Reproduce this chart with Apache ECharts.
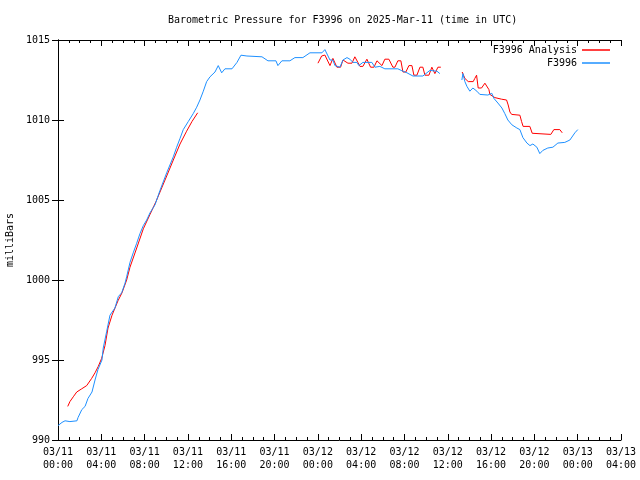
<!DOCTYPE html>
<html>
<head>
<meta charset="utf-8">
<script src="https://cdn.jsdelivr.net/npm/echarts@6/dist/echarts.min.js"></script>
<style>html,body{margin:0;padding:0;background:#fff}#c{width:640px;height:480px}</style>
</head>
<body>
<div id="c"></div>
<script>
// Hours since 03/11 00:00 UTC, pressure in millibars. null = gap in record.
var blueHours = [0,0.37,0.65,1.1,1.75,1.85,2.2,2.5,2.77,3.14,3.42,3.69,4.06,4.18,4.5,4.8,5.26,5.57,5.88,6.19,6.34,6.65,6.95,7.27,7.57,7.88,8.19,8.5,8.96,9.42,10.04,10.65,10.96,11.27,11.57,12.03,12.49,12.81,13.11,13.42,13.73,14.04,14.5,14.8,15.12,15.42,16.07,16.53,16.9,17.45,18.84,19.39,20.13,20.31,20.68,21.42,21.88,22.62,23.27,24.38,24.65,25.12,25.39,25.58,26.04,26.32,26.69,26.96,27.24,27.61,27.79,28.16,28.99,29.27,29.73,30.19,31.39,31.76,32.23,32.78,33.7,34.35,35.0,35.27,36.3,37.3,37.4,37.58,37.77,38.04,38.32,38.69,38.96,39.7,40.07,40.26,40.63,41.0,41.27,41.55,41.92,42.38,42.66,42.94,43.31,43.59,43.86,44.23,44.5,44.78,45.24,45.71,46.17,46.81,47.28,47.74,48.01];
var blueValues = [990.9,991.1,991.2,991.15,991.2,991.4,991.9,992.1,992.6,993.0,993.75,994.4,995.0,995.75,996.8,997.8,998.25,998.96,999.2,999.8,1000.2,1001.1,1001.7,1002.3,1002.9,1003.4,1003.75,1004.2,1004.7,1005.6,1006.7,1007.7,1008.3,1008.85,1009.4,1009.9,1010.4,1010.8,1011.25,1011.8,1012.4,1012.7,1013.0,1013.4,1012.95,1013.2,1013.2,1013.6,1014.05,1014.0,1013.95,1013.7,1013.7,1013.4,1013.7,1013.7,1013.9,1013.9,1014.2,1014.2,1014.4,1013.75,1013.75,1013.4,1013.3,1013.75,1013.9,1013.8,1013.6,1013.6,1013.4,1013.6,1013.6,1013.3,1013.35,1013.2,1013.2,1013.08,1012.95,1012.75,1012.75,1013.1,1013.05,1012.9,null,1012.5,1012.9,1012.4,1012.1,1011.8,1012.0,1011.8,1011.6,1011.56,1011.67,1011.35,1011.06,1010.75,1010.4,1010.0,1009.7,1009.5,1009.4,1008.9,1008.56,1008.4,1008.5,1008.3,1007.9,1008.1,1008.25,1008.3,1008.56,1008.6,1008.75,1009.2,1009.4];
var redHours = [0.9,1.1,1.41,1.73,2.19,2.65,2.8,3.11,3.42,3.72,4.03,4.34,4.62,4.99,5.54,5.91,6.34,6.65,7.27,7.88,8.5,9.05,10.04,10.65,11.27,11.88,12.37,12.9,18.0,24.01,24.35,24.65,25.12,25.39,25.76,26.1,26.32,26.78,27.15,27.42,27.7,27.89,28.16,28.53,28.87,29.18,29.46,29.64,29.92,30.19,30.56,30.93,31.12,31.39,31.67,31.86,32.13,32.41,32.69,32.87,33.15,33.43,33.7,33.89,34.26,34.53,34.81,35.09,35.36,36.3,37.33,37.58,37.89,38.35,38.5,38.66,38.81,39.12,39.43,39.58,39.8,39.89,40.35,40.97,41.43,41.58,41.74,41.9,42.66,42.82,42.96,43.58,43.8,45.52,45.8,46.35,46.57];
var redValues = [992.1,992.4,992.7,993.0,993.2,993.4,993.5,993.85,994.2,994.6,995.1,995.9,997.0,997.8,998.7,999.2,1000.0,1000.8,1002.0,1003.2,1004.1,1004.9,1006.5,1007.5,1008.5,1009.3,1009.9,1010.45,null,1013.55,1014.0,1014.06,1013.4,1013.85,1013.3,1013.3,1013.75,1013.55,1013.55,1013.95,1013.6,1013.35,1013.35,1013.8,1013.3,1013.3,1013.7,1013.7,1013.4,1013.8,1013.8,1013.3,1013.3,1013.7,1013.7,1013.0,1013.0,1013.4,1013.4,1012.8,1012.8,1013.3,1013.3,1012.8,1012.8,1013.3,1012.9,1013.3,1013.3,null,1013.0,1012.6,1012.4,1012.4,1012.6,1012.8,1012.0,1012.0,1012.3,1012.3,1011.9,1011.6,1011.4,1011.3,1011.25,1010.94,1010.5,1010.35,1010.3,1009.9,1009.6,1009.6,1009.17,1009.1,1009.4,1009.4,1009.2];
var xTickLabels = ['03/11\n00:00','03/11\n04:00','03/11\n08:00','03/11\n12:00','03/11\n16:00','03/11\n20:00','03/12\n00:00','03/12\n04:00','03/12\n08:00','03/12\n12:00','03/12\n16:00','03/12\n20:00','03/13\n00:00','03/13\n04:00'];
var seriesNames = ['F3996 Analysis','F3996'];

function pairs(hs, vs){ return hs.map(function(h,i){ return [h, vs[i]==null ? '-' : vs[i]]; }); }

var FONT = 'DejaVu Sans Mono';
var chart = echarts.init(document.getElementById('c'), null, {renderer:'canvas'});
var axLine = {show:true, lineStyle:{color:'#000', width:1}};
var tick = {show:true, inside:true, length:6, lineStyle:{color:'#000'}};
var legendText = {fontFamily:FONT, fontSize:10, color:'#000'};
chart.setOption({
  animation:false,
  backgroundColor:'#fff',
  title:{text:'Barometric Pressure for F3996 on 2025-Mar-11 (time in UTC)', left:163, top:10,
    textStyle:{fontFamily:FONT, fontSize:10, fontWeight:'normal', color:'#000'}},
  legend:[
    {data:[seriesNames[0]], right:25, top:40, orient:'vertical', align:'right', itemWidth:28, itemHeight:1.5, icon:'rect', textStyle:legendText},
    {data:[seriesNames[1]], right:25, top:53, orient:'vertical', align:'right', itemWidth:28, itemHeight:1.5, icon:'rect', textStyle:legendText}
  ],
  grid:{left:58, right:19, top:40, bottom:40, containLabel:false, outerBoundsMode:'none'},
  xAxis:[
    {type:'value', min:0, max:52, interval:4, position:'bottom', axisLine:axLine, axisTick:tick,
      minorTick:{show:true, splitNumber:4, length:3, lineStyle:{color:'#000'}},
      splitLine:{show:false},
      axisLabel:{fontFamily:FONT, fontSize:10, color:'#000', lineHeight:13, margin:6,
        formatter:function(v){ return xTickLabels[Math.round(v/4)]; }}},
    {type:'value', min:0, max:52, interval:4, position:'top', axisLine:axLine, axisTick:tick,
      minorTick:{show:true, splitNumber:4, length:3, lineStyle:{color:'#000'}},
      splitLine:{show:false}, axisLabel:{show:false}}
  ],
  yAxis:[
    {type:'value', min:990, max:1015, interval:5, position:'left', axisLine:axLine, axisTick:tick,
      splitLine:{show:false},
      name:'milliBars', nameLocation:'middle', nameRotate:90, nameGap:40,
      nameTextStyle:{fontFamily:FONT, fontSize:10, color:'#000'},
      axisLabel:{fontFamily:FONT, fontSize:10, color:'#000', margin:8, formatter:function(v){ return String(v); }}},
    {type:'value', min:990, max:1015, interval:5, position:'right', axisLine:axLine, axisTick:tick,
      splitLine:{show:false}, axisLabel:{show:false}}
  ],
  series:[
    {name:seriesNames[0], type:'line', data:pairs(redHours, redValues), showSymbol:false, symbol:'none',
      connectNulls:false, color:'#ff0000', lineStyle:{width:1, color:'#ff0000'}},
    {name:seriesNames[1], type:'line', data:pairs(blueHours, blueValues), showSymbol:false, symbol:'none',
      connectNulls:false, color:'#1e90ff', lineStyle:{width:1, color:'#1e90ff'}}
  ]
});
</script>
</body>
</html>
